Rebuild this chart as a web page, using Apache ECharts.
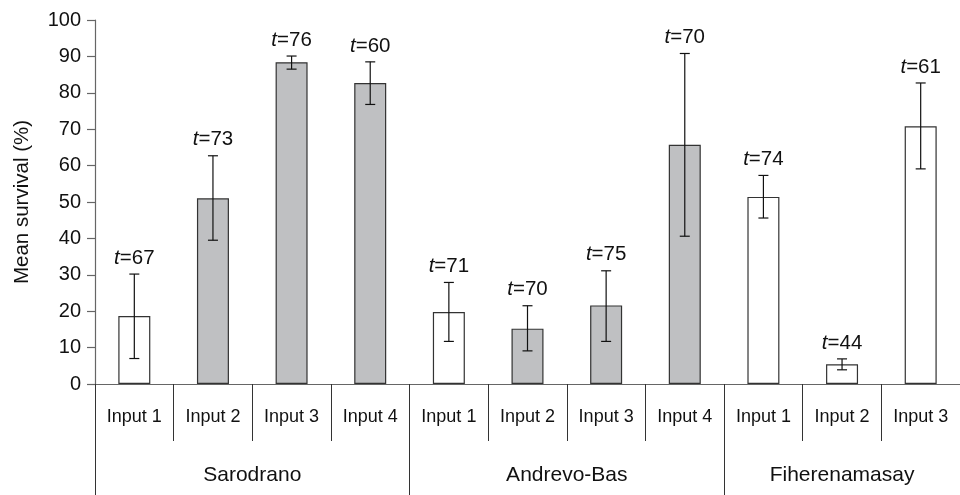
<!DOCTYPE html>
<html>
<head>
<meta charset="utf-8">
<script src="https://cdn.jsdelivr.net/npm/echarts@6/dist/echarts.min.js"></script>
<style>
  html, body { margin: 0; padding: 0; background: #fff; }
  #chart { width: 960px; height: 495px; }
</style>
</head>
<body>
<div id="chart"></div>
<script>
const inputs = ['Input 1', 'Input 2', 'Input 3', 'Input 4', 'Input 1', 'Input 2', 'Input 3', 'Input 4', 'Input 1', 'Input 2', 'Input 3'];
const sites = ['Sarodrano', 'Andrevo-Bas', 'Fiherenamasay'];
const siteSizes = [4, 4, 3];
const meanSurvival = [18.7, 51.0, 88.4, 82.7, 19.8, 15.2, 21.6, 65.7, 51.4, 5.4, 70.8];
const errUpper = [30.2, 62.7, 90.1, 88.5, 27.9, 21.5, 31.1, 90.8, 57.3, 6.9, 82.7];
const errLower = [7.0, 39.5, 86.5, 76.8, 11.7, 9.1, 11.7, 40.6, 45.6, 3.9, 59.1];
const tValues = [67, 73, 76, 60, 71, 70, 75, 70, 74, 44, 61];
const shaded = [false, true, true, true, false, true, true, true, false, false, false];

const FONT = 'Liberation Sans, Arial, Helvetica, sans-serif';
const INK = '#111';
const AXIS = '#666';

// group boundaries and centres for the site axis
const bounds = [0];
siteSizes.forEach(n => bounds.push(bounds[bounds.length - 1] + n));
const centres = sites.map((s, i) => (bounds[i] + bounds[i + 1]) / 2);

const chart = echarts.init(document.getElementById('chart'));
chart.setOption({
  animation: false,
  grid: { left: 95, right: -8, top: 20, bottom: 111 },
  yAxis: {
    type: 'value', min: 0, max: 100, interval: 10,
    name: 'Mean survival (%)', nameLocation: 'middle', nameRotate: 90, nameGap: 62,
    nameTextStyle: { fontFamily: FONT, fontSize: 20.5, color: INK },
    axisLine: { show: true, lineStyle: { color: AXIS, width: 1.2 } },
    axisTick: { show: true, length: 8, lineStyle: { color: AXIS, width: 1.2 } },
    axisLabel: { margin: 14, fontFamily: FONT, fontSize: 20, color: INK },
    splitLine: { show: false }
  },
  xAxis: [
    {
      type: 'category', data: inputs, position: 'bottom',
      axisLine: { show: true, lineStyle: { color: AXIS, width: 1.2 } },
      axisTick: { show: true, interval: 0, length: 57, lineStyle: { color: '#333', width: 1 } },
      axisLabel: { interval: 0, margin: 24, fontFamily: FONT, fontSize: 18, color: INK }
    },
    {
      type: 'value', min: 0, max: bounds[bounds.length - 1], position: 'bottom',
      axisLine: { show: false },
      splitLine: { show: false },
      axisTick: { show: true, customValues: bounds, length: 111, lineStyle: { color: '#333', width: 1 } },
      axisLabel: {
        customValues: centres, margin: 81, fontFamily: FONT, fontSize: 21, color: INK,
        formatter: v => sites[centres.indexOf(v)]
      }
    }
  ],
  series: [
    {
      type: 'bar', xAxisIndex: 0, barWidth: 32, z: 2,
      data: meanSurvival.map((v, i) => ({
        value: v,
        itemStyle: { color: shaded[i] ? '#bfc0c2' : '#ffffff', borderColor: '#333', borderWidth: 1.2 }
      }))
    },
    {
      type: 'custom', xAxisIndex: 0, z: 5,
      data: meanSurvival.map((v, i) => [i, errUpper[i], errLower[i], tValues[i]]),
      renderItem: (params, api) => {
        const hi = api.coord([api.value(0), api.value(1)]);
        const lo = api.coord([api.value(0), api.value(2)]);
        const cap = 5;
        const st = { stroke: INK, lineWidth: 1.2 };
        return {
          type: 'group',
          children: [
            { type: 'line', shape: { x1: hi[0], y1: hi[1], x2: lo[0], y2: lo[1] }, style: st },
            { type: 'line', shape: { x1: hi[0] - cap, y1: hi[1], x2: hi[0] + cap, y2: hi[1] }, style: st },
            { type: 'line', shape: { x1: lo[0] - cap, y1: lo[1], x2: lo[0] + cap, y2: lo[1] }, style: st },
            {
              type: 'text', x: hi[0], y: hi[1] - 16,
              style: {
                text: '{i|t}=' + api.value(3),
                rich: { i: { fontStyle: 'italic', fontFamily: FONT, fontSize: 20.5, fill: INK } },
                fontFamily: FONT, fontSize: 20.5, fill: INK,
                align: 'center', verticalAlign: 'middle'
              }
            }
          ]
        };
      }
    }
  ]
});
</script>
</body>
</html>
